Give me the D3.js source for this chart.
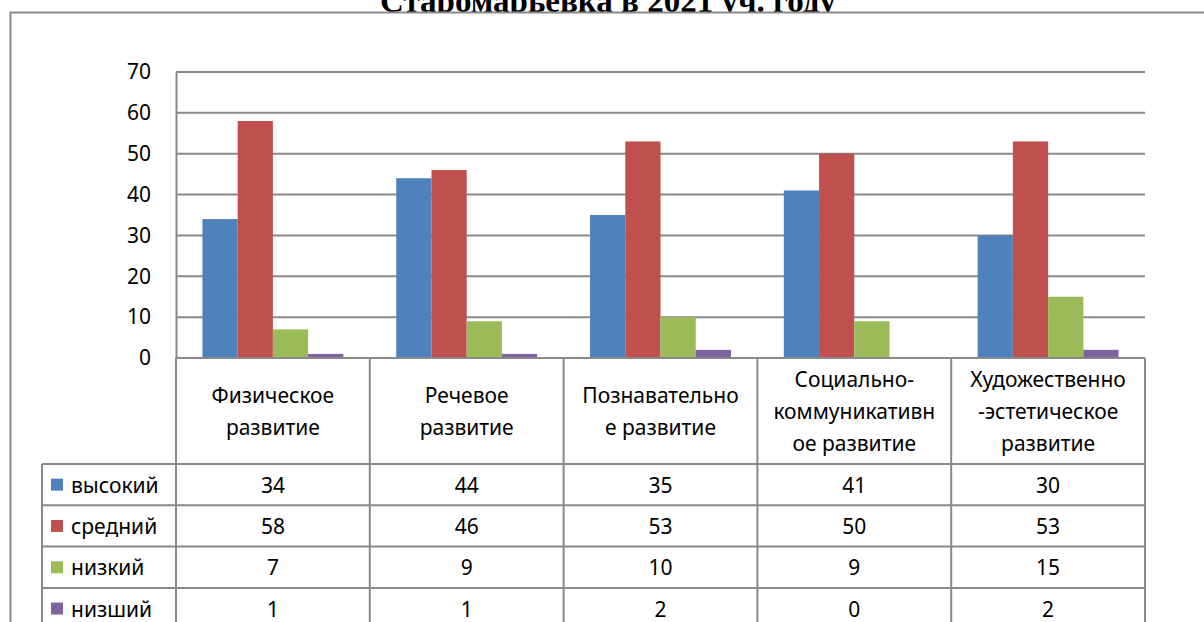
<!DOCTYPE html>
<html lang="ru">
  <head>
    <meta charset="utf-8"/>
    <script src="https://d3js.org/d3.v7.min.js"></script>
    <style>
      body { margin: 0; background: #fff; }
      text { font-family: "Noto Sans", sans-serif; fill: #000; }
    </style>
  </head>
  <body>
    <svg class="chart" width="1204" height="622"></svg>
  </body>
  <script>
    // data
    const categories = [
      ["Физическое", "развитие"],
      ["Речевое", "развитие"],
      ["Познавательно", "е развитие"],
      ["Социально-", "коммуникативн", "ое развитие"],
      ["Художественно", "-эстетическое", "развитие"]
    ];
    const seriesNames = ["высокий", "средний", "низкий", "низший"];
    const vysokiy = [34, 44, 35, 41, 30];
    const sredniy = [58, 46, 53, 50, 53];
    const nizkiy = [7, 9, 10, 9, 15];
    const nizshiy = [1, 1, 2, 0, 2];
    const yTicks = [0, 10, 20, 30, 40, 50, 60, 70];
    const titleText = "Старомарьевка в 2021 уч. году";

    const seriesValues = [vysokiy, sredniy, nizkiy, nizshiy];
    const colors = ["#4f81bd", "#c0504d", "#9bbb59", "#8064a2"];
    const gridColor = "#898989";
    const fontSize = "21px";

    const plot = { left: 176, right: 1145, top: 72, bottom: 358 };
    const tableLeft = 42;
    const headerBottom = 464;
    const rowH = 41.3;

    const svg = d3.select(".chart");

    // title, only its lower part shows above the frame
    svg.append("text")
      .attr("x", 608)
      .attr("y", 12)
      .attr("text-anchor", "middle")
      .style("font-family", "'Liberation Serif', serif")
      .style("font-weight", "bold")
      .style("font-size", "33px")
      .text(titleText);

    // chart frame
    svg.append("rect")
      .attr("x", 10.5).attr("y", 12.5)
      .attr("width", 1220).attr("height", 700)
      .attr("fill", "#fff")
      .attr("stroke", "#8a8a8a")
      .attr("stroke-width", 2);

    const x = d3.scaleBand()
      .domain(d3.range(categories.length))
      .range([plot.left, plot.right])
      .padding(0);

    const xs = d3.scaleBand()
      .domain(d3.range(seriesNames.length))
      .range([0, x.bandwidth()])
      .paddingInner(0)
      .paddingOuter(0.75);

    const y = d3.scaleLinear()
      .domain([0, 70])
      .range([plot.bottom, plot.top]);

    // gridlines
    svg.append("g")
      .selectAll("line")
      .data(yTicks.filter(d => d > 0))
      .enter().append("line")
        .attr("x1", plot.left).attr("x2", plot.right)
        .attr("y1", d => y(d)).attr("y2", d => y(d))
        .attr("stroke", gridColor)
        .attr("stroke-width", 2);

    // y axis
    const yAxis = svg.append("g")
      .attr("transform", "translate(" + plot.left + ",0)")
      .call(d3.axisLeft(y).tickValues(yTicks).tickSize(0).tickPadding(25));
    yAxis.select(".domain")
      .attr("stroke", gridColor)
      .attr("stroke-width", 2);
    yAxis.selectAll("text")
      .style("font-family", "'Noto Sans', sans-serif")
      .style("font-size", fontSize)
      .attr("fill", "#000");

    // bars
    const group = svg.append("g")
      .selectAll("g")
      .data(seriesValues)
      .enter().append("g")
        .attr("fill", (d, i) => colors[i]);

    group.each(function(vals, si) {
      d3.select(this).selectAll("rect")
        .data(vals)
        .enter().append("rect")
          .attr("x", (d, ci) => x(ci) + xs(si))
          .attr("width", xs.bandwidth())
          .attr("y", d => y(d))
          .attr("height", d => plot.bottom - y(d));
    });

    // data table
    const table = svg.append("g")
      .attr("stroke", gridColor)
      .attr("stroke-width", 2);

    table.append("line")
      .attr("x1", plot.left).attr("x2", plot.right)
      .attr("y1", plot.bottom).attr("y2", plot.bottom);

    d3.range(categories.length + 1).forEach(function(k) {
      const xx = k < categories.length ? x(k) : plot.right;
      table.append("line")
        .attr("x1", xx).attr("x2", xx)
        .attr("y1", plot.bottom).attr("y2", 660);
    });

    d3.range(seriesNames.length + 1).forEach(function(r) {
      const yy = headerBottom + r * rowH;
      table.append("line")
        .attr("x1", tableLeft).attr("x2", plot.right)
        .attr("y1", yy).attr("y2", yy);
    });

    table.append("line")
      .attr("x1", tableLeft).attr("x2", tableLeft)
      .attr("y1", headerBottom).attr("y2", 660);

    // category labels in header cells
    const headerMid = (plot.bottom + headerBottom) / 2 + 8;
    const lineH = 32;
    categories.forEach(function(lines, ci) {
      const t = svg.append("text")
        .attr("text-anchor", "middle")
        .style("font-size", fontSize);
      lines.forEach(function(s, li) {
        t.append("tspan")
          .attr("x", x(ci) + x.bandwidth() / 2)
          .attr("y", headerMid + (li - (lines.length - 1) / 2) * lineH)
          .text(s);
      });
    });

    // rows: legend key, series name, values
    seriesNames.forEach(function(name, si) {
      const cy = headerBottom + si * rowH + rowH / 2;
      svg.append("rect")
        .attr("x", 51).attr("y", cy - 6)
        .attr("width", 12).attr("height", 12)
        .attr("fill", colors[si]);
      svg.append("text")
        .attr("x", 71).attr("y", cy + 8)
        .style("font-size", fontSize)
        .text(name);
      svg.append("g")
        .selectAll("text")
        .data(seriesValues[si])
        .enter().append("text")
          .attr("x", (d, ci) => x(ci) + x.bandwidth() / 2)
          .attr("y", cy + 8)
          .attr("text-anchor", "middle")
          .style("font-size", fontSize)
          .text(d => d);
    });
  </script>
</html>
